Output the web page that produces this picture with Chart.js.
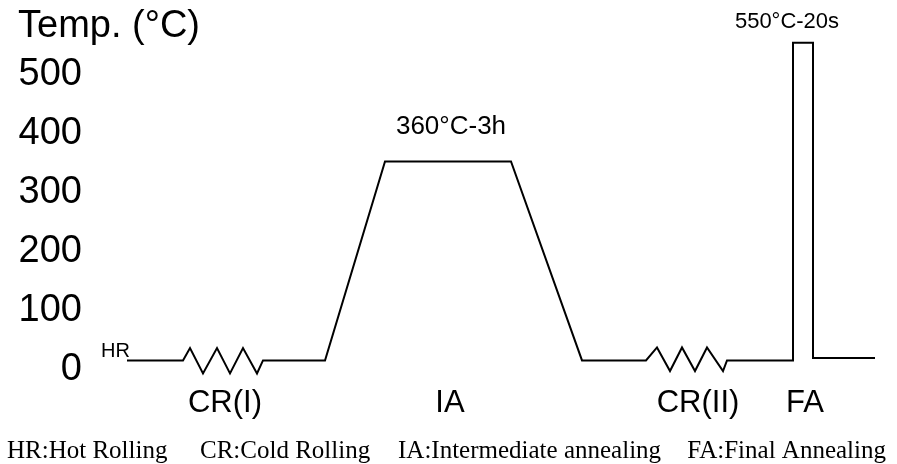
<!DOCTYPE html>
<html lang="en">
<head>
    <meta charset="UTF-8">
    <title>Heat treatment schedule</title>
    <style>
        html, body { margin: 0; padding: 0; background: #fff; }
        #wrap { width: 897px; height: 464px; }
    </style>
</head>
<body>
    <div id="wrap"><canvas id="myChart"></canvas></div>
    <script src="https://cdn.jsdelivr.net/npm/chart.js"></script>
    <script>
        // process path: time (schematic units) and temperature (°C)
        const timeX = [127, 183, 190, 203, 217, 230, 243, 257, 263, 325, 385, 511, 582, 646, 657, 670, 682, 695, 707, 723, 727, 793, 793, 813, 813, 875];
        const tempY = [15, 15, 36, -7, 36, -7, 36, -7, 15, 15, 352, 352, 15, 15, 37, -3, 37, -3, 37, -3, 15, 15, 553, 553, 19, 19];

        const yTicks = [0, 100, 200, 300, 400, 500];
        const stageX = [225, 450, 698, 805];
        const stageLabels = ["CR(I)", "IA", "CR(II)", "FA"];
        const notes = ["HR", "360°C-3h", "550°C-20s"];
        const legendItems = ["HR:Hot Rolling", "CR:Cold Rolling", "IA:Intermediate annealing", "FA:Final Annealing"];
        const yTitle = "Temp. (°C)";

        const SANS = '"Liberation Sans", Arial, sans-serif';
        const SERIF = '"Liberation Serif", "Times New Roman", serif';

        let v_points = [];
        for (let i = 0; i < timeX.length; i++) {
            v_points.push({ x: timeX[i], y: tempY[i] });
        }

        // texts that sit on the path + bottom legend
        const textPlugin = {
            id: "texts",
            afterDraw(chart) {
                const ctx = chart.ctx;
                const sx = chart.scales.x;
                const sy = chart.scales.y;
                ctx.save();
                ctx.fillStyle = "#000";
                ctx.textBaseline = "alphabetic";

                ctx.font = "38px " + SANS;
                ctx.textAlign = "left";
                ctx.fillText(yTitle, 18, 37);

                // HR next to start of line
                ctx.font = "20px " + SANS;
                ctx.fillText(notes[0], sx.getPixelForValue(timeX[0]) - 26, sy.getPixelForValue(tempY[0]) - 3);

                // plateau label
                ctx.textAlign = "center";
                ctx.font = "26px " + SANS;
                let mid = (sx.getPixelForValue(timeX[10]) + sx.getPixelForValue(timeX[11])) / 2;
                ctx.fillText(notes[1], mid + 3, sy.getPixelForValue(tempY[10]) - 27);

                // final anneal label
                ctx.font = "22px " + SANS;
                mid = (sx.getPixelForValue(timeX[22]) + sx.getPixelForValue(timeX[23])) / 2;
                ctx.fillText(notes[2], mid - 16, sy.getPixelForValue(tempY[22]) - 15);

                // legend line
                ctx.font = "25px " + SERIF;
                const starts = [7, 200, 398];
                ctx.textAlign = "left";
                for (let i = 0; i < starts.length; i++) {
                    ctx.fillText(legendItems[i], starts[i], 458);
                }
                ctx.textAlign = "right";
                ctx.fillText(legendItems[3], 886, 458);
                ctx.restore();
            }
        };

        const ctx = document.getElementById("myChart");

        new Chart(ctx, {
            type: "line",
            data: {
                datasets: [{
                    data: v_points,
                    borderColor: "#000",
                    borderWidth: 2,
                    pointRadius: 0,
                    tension: 0,
                    fill: false,
                    clip: false
                }]
            },
            options: {
                responsive: true,
                maintainAspectRatio: false,
                animation: false,
                layout: { padding: { top: 5, right: 7, left: 0, bottom: 0 } },
                plugins: {
                    legend: { display: false },
                    tooltip: { enabled: false }
                },
                scales: {
                    x: {
                        type: "linear",
                        min: 100,
                        max: 890,
                        grid: { display: false, drawTicks: false },
                        border: { display: false },
                        afterFit: (scale) => {
                            scale.height = 77;
                            scale.paddingLeft = 0;
                            scale.paddingRight = 0;
                        },
                        afterBuildTicks: (scale) => { scale.ticks = stageX.map(v => ({ value: v })); },
                        ticks: {
                            autoSkip: false,
                            maxRotation: 0,
                            padding: -2,
                            color: "#000",
                            font: { family: SANS, size: 31 },
                            callback: (value, index) => stageLabels[index]
                        }
                    },
                    y: {
                        min: -30,
                        max: 617,
                        grid: { display: false, drawTicks: false },
                        border: { display: false },
                        afterFit: (scale) => {
                            scale.width = 100;
                            scale.paddingTop = 0;
                            scale.paddingBottom = 0;
                        },
                        afterBuildTicks: (scale) => { scale.ticks = yTicks.map(v => ({ value: v })); },
                        ticks: {
                            padding: 18,
                            color: "#000",
                            font: { family: SANS, size: 38 }
                        }
                    }
                }
            },
            plugins: [textPlugin]
        });
    </script>
</body>
</html>
